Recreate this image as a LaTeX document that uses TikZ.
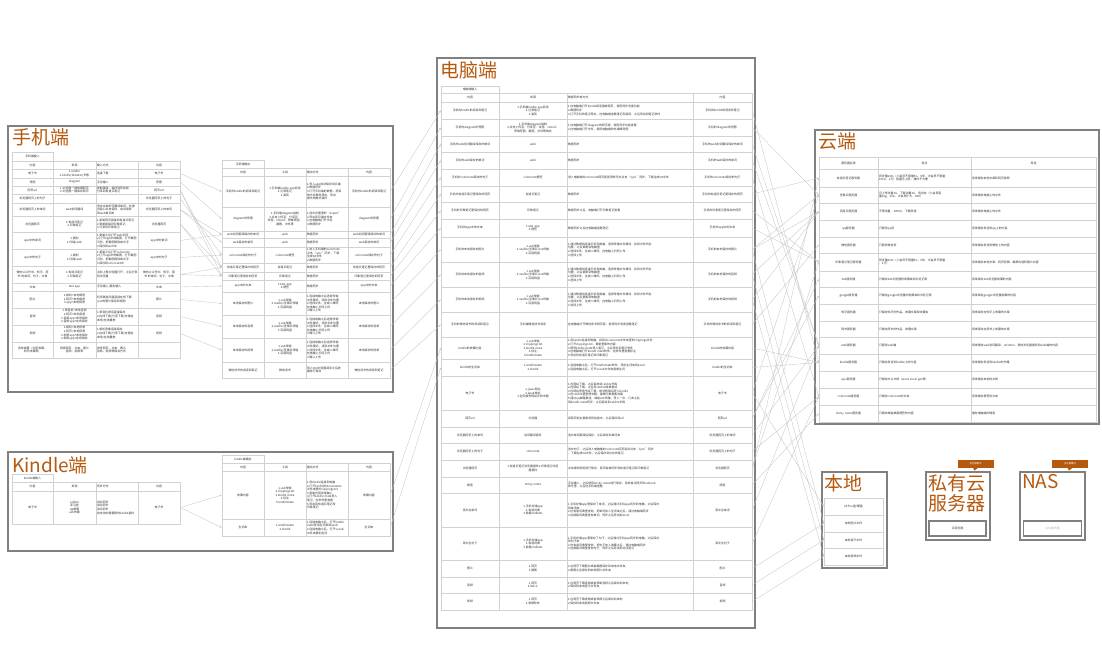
\documentclass[tikz,border=0pt]{standalone}
\usepackage{fontspec}
\setmainfont{Noto Sans CJK SC}
\usetikzlibrary{arrows.meta,calc}
\definecolor{titlebrown}{HTML}{B5590F}
\tikzset{
  boxframe/.style={draw=gray, line width=1.8pt},
  cellline/.style={draw=gray!35, line width=0.4pt},
  celltext/.style={font=\fontsize{2.9}{3.6}\selectfont, text=black!80, inner sep=1pt, align=center},
  lcell/.style={align=left},
  bigtitle/.style={font=\fontsize{19}{20}\selectfont, text=titlebrown, anchor=north west, inner sep=0pt, align=left},
  flow/.style={draw=gray!45, line width=0.35pt, -{Stealth[length=2.4pt,width=1.8pt]}},
  notebox/.style={fill=titlebrown, text=white, font=\fontsize{2.4}{3}\selectfont, minimum width=36pt, minimum height=7.5pt, inner sep=0pt},
}
% one cell: [style] name, x1, y1, x2, y2, text
\newcommand{\mkcell}[7][]{\pgfmathsetmacro{\cellw}{#5-#3-2}\draw[cellline] (#3,#4) rectangle (#5,#6); \node[celltext,#1,text width=\cellw pt] (#2) at ({(#3+#5)/2},{(#4+#6)/2}) {#7};}
% one row of four cells between \colA ... \colE
\newcommand{\cellrow}[7]{\mkcell{#1a}{\colA}{#2}{\colB}{#3}{#4} \mkcell{#1b}{\colB}{#2}{\colC}{#3}{#5} \mkcell[lcell]{#1c}{\colC}{#2}{\colD}{#3}{#6} \mkcell{#1d}{\colD}{#2}{\colE}{#3}{#7}}
% one row of three cells between \colA ... \colD
\newcommand{\srvrow}[6]{\mkcell{#1a}{\colA}{#2}{\colB}{#3}{#4} \mkcell[lcell]{#1b}{\colB}{#2}{\colC}{#3}{#5} \mkcell[lcell]{#1c}{\colC}{#2}{\colD}{#3}{#6}}

\begin{document}
\begin{tikzpicture}[x=1pt, y=-1pt]
        \useasboundingbox (0,0) rectangle (1102,671);
        % frames
        \draw[boxframe] (8,126) rectangle (393,392);
        \draw[boxframe] (8,452) rectangle (393,551);
        \draw[boxframe] (437,58) rectangle (755,628);
        \draw[boxframe] (815,130) rectangle (1099,424);
        \draw[boxframe] (822,472) rectangle (887,568);
        \draw[boxframe] (926,472) rectangle (990,540);
        \draw[boxframe] (1020,472) rectangle (1085,540);
        % titles
        \node[bigtitle] (phonetitle) at (12,128) {手机端};
        \node[bigtitle] (kindletitle) at (12,456) {Kindle端};
        \node[bigtitle] (pctitle) at (440,61) {电脑端};
        \node[bigtitle] (cloudtitle) at (818,132) {云端};
        \node[bigtitle] (localtitle) at (824,474) {本地};
        \node[bigtitle] (privtitle) at (928,474) {私有云\\服务器};
        \node[bigtitle] (nastitle) at (1022,474) {NAS};

        % phone input
        \def\colA{12}\def\colB{53}\def\colC{96}\def\colD{138}\def\colE{180}
        \mkcell{phinl}{12}{152}{53}{161}{手机端输入}
        \cellrow{phinh}{161}{169}{内容}{来源}{输入方式}{内容}
        \cellrow{phin1}{169}{178}{电子书}{1.kindle\\2.kindle/iReader/多看}{连接下载}{电子书}
        \cellrow{phin2}{178}{186}{导图}{diagram}{手动输入}{导图}
        \cellrow{phin3}{186}{194}{网页url}{1.浏览器一键收藏网页\\2.浏览器一键保存网页}{复制链接，保存到剪贴板\\分享到有道云笔记}{网页url}
        \cellrow{phin4}{194}{203}{浏览器网页上的句子}{}{}{浏览器网页上的句子}
        \cellrow{phin5}{203}{216}{浏览器网页上的单词}{web划词翻译}{选中文本即可翻译单词，在弹\\出窗口点击保存，自动保存\\到web单词本}{浏览器网页上的单词}
        \cellrow{phin6}{216}{232}{浏览器网页}{1.有道云笔记\\2.印象笔记}{1.复制网页链接到有道云笔记\\2.复制链接到印象笔记\\3.分享到印象笔记}{浏览器网页}
        \cellrow{phin7}{232}{249}{app中的单词}{1.复制\\2.扫描/web}{1.复制之后打开web划词\\2.打开app中的截图，打开截图\\识别，把截图提取成文字\\3.保存到web中}{app中的单词}
        \cellrow{phin8}{249}{266}{app中的句子}{1.复制\\2.扫描/web}{1.复制之后打开colornote\\2.打开app中的截图，打开截图\\识别，把截图提取成文字\\3.保存到colornote中}{app中的句子}
        \cellrow{phin9}{266}{283}{微信公众号中、知乎、简\\书 的单词、句子、文章}{1.有道云笔记\\2.印象笔记}{点右上角浏览器打开，之后分享\\到浏览器}{微信公众号中、知乎、简\\书 的单词、句子、文章}
        \cellrow{phin10}{283}{291}{文本}{text app}{手动输入/复制输入}{文本}
        \cellrow{phin11}{291}{308}{图片}{1.相机+本地相册\\2.网页+本地相册\\3.app+本地相册}{利用随身网盘直接在线下载\\/xxx的图片保存到相册}{图片}
        \cellrow{phin12}{308}{325}{音频}{1.录音机+本地音频\\2.网页+本地音频\\3.音频app+本地保存\\4.音频app+在线保存}{1.录音机录音直接保存\\2.在线下载/分享下载/存储在\\本地/在线播放}{音频}
        \cellrow{phin13}{325}{342}{视频}{1.相机+本地视频\\2.网页+本地视频\\3.视频app+本地保存\\4.视频app+在线保存}{1.相机录像直接保存\\2.在线下载/分享下载/存储在\\本地/在线播放}{视频}
        \cellrow{phin14}{342}{358}{各种收藏（浏览收藏、\\知乎收藏等）}{网络网页、文本、图片\\音频、视频等}{参考网页、文本、图片\\音频、视频等相关方式}{}

        % phone output
        \def\colA{222}\def\colB{264}\def\colC{306}\def\colD{348}\def\colE{390}
        \mkcell{phoutl}{222}{160}{264}{168}{手机端输出}
        \cellrow{phouth}{168}{176}{内容}{工具}{输出方式}{内容}
        \cellrow{phout1}{176}{207}{手机的kindle的阅读和笔记}{1.手机端kindle app阅读\\2.记录笔记\\3.高亮}{1.导入app自动保存到云端\\2.数据同步\\3.打开手机端的数据，用其\\他方式提取导出、导出\\成文档格式保存}{手机的kindle的阅读和笔记}
        \cellrow{phout2}{207}{231}{diagram的导图}{1.手机端diagram绘制\\2.点击上传至，分享至：\\流程、xmind、思维导图、\\截图、文件等}{1.选中设置里的“export”\\2.导出到云端文件夹\\3.在电脑端打开文件\\4.数据同步}{diagram的导图}
        \cellrow{phout3}{231}{238}{web划词翻译保存的单词}{web}{数据同步}{web划词翻译保存的单词}
        \cellrow{phout4}{238}{247}{web保存的单词}{web}{数据同步}{web保存的单词}
        \cellrow{phout5}{247}{263}{colornote保存的句子}{colornote便签}{1.进入手机端的colornote\\点击“sync”同步，下载\\生成txt文件\\2.数据同步}{colornote保存的句子}
        \cellrow{phout6}{263}{272}{有道云笔记里保存的网页}{有道云笔记}{数据同步}{有道云笔记里保存的网页}
        \cellrow{phout7}{272}{280}{印象笔记里保存的网页}{印象笔记}{数据同步}{印象笔记里保存的网页}
        \cellrow{phout8}{280}{292}{app中的文本}{1.text app\\2.便签}{数据同步}{app中的文本}
        \cellrow{phout9}{292}{315}{本地保存的图片}{1.usb传输\\2.seafile/坚果云传输\\3.百度网盘}{1.连接电脑之后选择传输\\文件模式，找到文件位置\\2.选择文件，生成二维码\\在电脑上扫码上传\\3.确认上传}{本地保存的图片}
        \cellrow{phout10}{315}{338}{本地保存的音频}{1.usb传输\\2.seafile/坚果云传输\\3.百度网盘}{1.连接电脑之后选择传输\\文件模式，找到文件位置\\2.选择文件，生成二维码\\在电脑上扫码上传\\3.确认上传}{本地保存的音频}
        \cellrow{phout11}{338}{362}{本地保存的视频}{1.usb传输\\2.seafile/坚果云传输\\3.百度网盘}{1.连接电脑之后选择传输\\文件模式，找到文件位置\\2.选择文件，生成二维码\\在电脑上扫码上传\\3.确认上传}{本地保存的视频}
        \cellrow{phout12}{362}{378}{微信读书的阅读和笔记}{微信读书}{导入360浏览器阅读之后收\\藏进行保存}{微信读书的阅读和笔记}

        % kindle input
        \def\colA{12}\def\colB{53}\def\colC{96}\def\colD{138}\def\colE{180}
        \mkcell{kinl}{12}{474}{53}{482}{kindle端输入}
        \cellrow{kinh}{482}{491}{内容}{来源}{同步方式}{内容}
        \cellrow{kin1}{491}{524}{电子书}{calibre\\亚马逊\\qq邮箱\\usb传输}{自动同步\\自动同步\\自动同步\\有支持的需要刷的kindle插件}{电子书}

        % kindle output
        \def\colA{222}\def\colB{264}\def\colC{306}\def\colD{348}\def\colE{390}
        \mkcell{koutl}{222}{455}{264}{463}{kindle端输出}
        \cellrow{kouth}{463}{471}{内容}{工具}{输出方式}{内容}
        \cellrow{kout1}{471}{519}{收藏内容}{1.usb传输\\2.clippings.txt\\3.kindle mate\\4.标注\\5.kindlemate}{1.将kindle连接到电脑\\2.打开kindle的documents\\文件夹里的clippings.txt\\3.复制内容到电脑上\\4.打开kindle mate导入\\笔记，在软件里查看\\5.导出到有道云笔记和\\印象笔记}{收藏内容}
        \cellrow{kout2}{519}{536}{生词本}{1.kindlemate\\2.kindle}{1.连接电脑之后，打开kindle\\mate导出生词本到excel\\2.连接电脑之后，打开vocab\\文件夹复制生词}{生词本}

        % pc table
        \def\colA{441}\def\colB{499}\def\colC{567}\def\colD{693}\def\colE{752}
        \mkcell{pcl}{441}{86}{499}{93}{电脑端输入}
        \cellrow{pch}{93}{102}{内容}{来源}{数据同步或方式}{内容}
        \cellrow{pc1}{102}{119}{手机的kindle的阅读和笔记}{1.手机端kindle app阅读\\2.记录笔记\\3.高亮}{1.在电脑端打开kindle阅读器或网页，使用同步进度功能\\2.数据同步\\3.打开手机的笔记导出，在电脑端查看笔记和高亮，之后导出到笔记软件}{手机的kindle的阅读和笔记}
        \cellrow{pc2}{119}{136}{手机的diagram的导图}{1.手机端diagram绘制\\2.点击上传至，分享至：流程、xmind、\\思维导图、截图、文件等格式}{1.在电脑端打开diagram的网页版，使用同步功能查看\\2.在电脑端打开文件，使用电脑端软件编辑导图}{手机的diagram的导图}
        \cellrow{pc3}{136}{152}{手机的web划词翻译保存的单词}{web}{数据同步}{手机的web划词翻译保存的单词}
        \cellrow{pc4}{152}{169}{手机的web保存的单词}{web}{数据同步}{手机的web保存的单词}
        \cellrow{pc5}{169}{186}{手机的colornote保存的句子}{colornote便签}{进入电脑端的colornote网页版登录账号并点击“sync”同步，下载生成txt文件}{手机的colornote保存的句子}
        \cellrow{pc6}{186}{202}{手机的有道云笔记里保存的网页}{有道云笔记}{数据同步}{手机的有道云笔记里保存的网页}
        \cellrow{pc7}{202}{219}{手机的印象笔记里保存的网页}{印象笔记}{数据同步之后，电脑端打开印象笔记查看}{手机的印象笔记里保存的网页}
        \cellrow{pc8}{219}{237}{手机的app中的文本}{1.text app\\2.便签}{数据同步之后在电脑端查看笔记}{手机的app中的文本}
        \cellrow{pc9}{237}{262}{手机的本地保存的图片}{1.usb传输\\2.seafile/坚果云/xxx传输\\3.百度网盘}{1.通过数据线连接手机和电脑，选择传输文件模式，找到文件所在\\位置，之后复制到电脑里\\2.选择文件，生成二维码，在电脑上扫码上传\\3.选择上传}{手机的本地保存的图片}
        \cellrow{pc10}{262}{287}{手机的本地保存的音频}{1.usb传输\\2.seafile/坚果云/xxx传输\\3.百度网盘}{1.通过数据线连接手机和电脑，选择传输文件模式，找到文件所在\\位置，之后复制到电脑里\\2.选择文件，生成二维码，在电脑上扫码上传\\3.选择上传}{手机的本地保存的音频}
        \cellrow{pc11}{287}{312}{手机的本地保存的视频}{1.usb传输\\2.seafile/坚果云/xxx传输\\3.百度网盘}{1.通过数据线连接手机和电脑，选择传输文件模式，找到文件所在\\位置，之后复制到电脑里\\2.选择文件，生成二维码，在电脑上扫码上传\\3.选择上传}{手机的本地保存的视频}
        \cellrow{pc12}{312}{337}{手机的微信读书的阅读和笔记}{手机端微信读书阅读}{在电脑端打开微信读书网页版，使用同步进度查看笔记}{手机的微信读书的阅读和笔记}
        \cellrow{pc13}{337}{359}{kindle的收藏内容}{1.usb传输\\2.clippings.txt\\3.kindle mate\\4.标注\\5.kindlemate}{1.将kindle连接到电脑，找到documents文件夹里的clippings文件\\2.打开clippings.txt，复制里面的内容\\3.使用kindle mate导入笔记，之后导出到笔记软件\\4.在电脑端打开kindle mate软件，在软件里查看标注\\5.导出到有道云笔记和印象笔记}{kindle的收藏内容}
        \cellrow{pc14}{359}{376}{kindle的生词本}{1.kindlemate\\2.kindle}{1.连接电脑之后，打开kindlemate软件，导出生词本到excel\\2.连接电脑之后，打开vocab文件夹复制生词}{kindle的生词本}
        \cellrow{pc15}{376}{410}{电子书}{1.jjwxc网站\\2.epub格式\\3.全网搜书网站多种书籍}{1.在网站下载，之后保存到calibre书库\\2.在网站下载，之后用calibre转换格式\\3.在网站里搜书并下载，格式转换后导入kindle\\4.在calibre里管理书籍，编辑元数据和封面\\5.通过qq邮箱推送，或者usb传输，导入一次，几本之后\\用kindle mate同步，之后保存到calibre书库}{电子书}
        \cellrow{pc16}{410}{427}{网页url}{浏览器}{将网页地址复制到剪贴板中，之后保存到url}{网页url}
        \cellrow{pc17}{427}{443}{浏览器网页上的单词}{划词翻译插件}{选中单词翻译后保存，之后保存到单词本}{浏览器网页上的单词}
        \cellrow{pc18}{443}{460}{浏览器网页上的句子}{colornote}{选中句子，之后进入电脑端的colornote网页版并点击“sync”同步\\，下载生成txt文件，之后保存到对应的笔记}{浏览器网页上的句子}
        \cellrow{pc19}{460}{477}{浏览器网页}{1.有道云笔记浏览器插件2.印象笔记浏览\\器插件}{点击插件图标进行保存，网页会被同步到有道云笔记和印象笔记}{浏览器网页}
        \cellrow{pc20}{477}{493}{随笔}{sticky notes}{手动输入，之后使用sticky notes进行保存，系统自动同步到outlook\\账号里，之后在手机端查看}{随笔}
        \cellrow{pc21}{493}{527}{英文生单词}{1.手机存储app\\2.有道词典\\3.欧路+tablets}{1.手机存储app里保存了单词，之后通过手机app同步到电脑，之后保存\\到单词本\\2.在有道词典里查询，把单词加入生词本之后，通过电脑端同步\\3.在欧路词典里查询单词，同步之后导出到excel}{英文生单词}
        \cellrow{pc22}{527}{560}{英文生句子}{1.手机存储app\\2.有道词典\\3.欧路+tablets}{1.手机存储app里保存了句子，之后通过手机app同步到电脑，之后保存\\到句子本\\2.在有道词典里查询，把句子加入收藏之后，通过电脑端同步\\3.在欧路词典里查询句子，同步之后导出到对应笔记}{英文生句子}
        \cellrow{pc23}{560}{577}{图片}{1.网页\\2.截图}{1.在网页下载图片或者截图保存到本地文件夹\\2.截图之后保存到本地图片文件夹}{图片}
        \cellrow{pc24}{577}{593}{音频}{1.网页\\2.Music}{1.在网页下载音频或者录制音频之后保存到本地\\2.保存到本地音乐文件夹}{音频}
        \cellrow{pc25}{593}{610}{视频}{1.网页\\2.录屏软件}{1.在网页下载视频或者录屏之后保存到本地\\2.保存到本地视频文件夹}{视频}

        % cloud table
        \def\colA{819}\def\colB{878}\def\colC{971}\def\colD{1096}
        \mkcell{clha}{819}{157}{878}{169}{服务器名称}
        \mkcell{clhb}{878}{157}{971}{169}{特点}
        \mkcell{clhc}{971}{157}{1096}{169}{用途}
        \srvrow{cl1}{169}{187}{有道云笔记服务器}{同步量60m（小会员不限量5G，5年，大会员不限量\\100G，1万）容量无上限，操作不方便}{用来储存本地文章和网页视频}
        \srvrow{cl2}{187}{203}{坚果云服务器}{月上传流量1G，下载流量3G，适合存（小会员容\\量10g，20G，大会员扩大，800）}{用来储存电脑上的文件}
        \srvrow{cl3}{203}{220}{百度云服务器}{不限流量，2055G，下载限速}{用来储存电脑上的文件}
        \srvrow{cl4}{220}{237}{qq服务器}{只服务qq用}{用来储存发送到qq上的内容}
        \srvrow{cl5}{237}{253}{微信服务器}{只服务微信用}{用来储存发送到微信上的内容}
        \srvrow{cl6}{253}{271}{印象笔记笔记服务器}{同步量60m（小会员不限量5G，5年，大会员不限量\\，1万）}{用来储存本地文章、网页剪辑、截屏内容和图片内容}
        \srvrow{cl7}{271}{287}{360服务器}{只储存360浏览器的收藏夹和浏览记录}{用来保存360浏览器收藏的内容}
        \srvrow{cl8}{287}{304}{google服务器}{只储存google浏览器的收藏夹和浏览记录}{用来保存google浏览器收藏的内容}
        \srvrow{cl9}{304}{321}{知乎服务器}{只储存知乎的作品、收藏文章和收藏夹}{用来保存在知乎上收藏的文章}
        \srvrow{cl10}{321}{337}{简书服务器}{只储存简书的作品、收藏文章}{用来保存在简书上收藏的文章}
        \srvrow{cl11}{337}{354}{web服务器}{只服务web端}{用来储存web划词翻译、urlshort、其他浏览器插件和web端的内容}
        \srvrow{cl12}{354}{371}{kindle服务器}{只储存发送到kindle上的内容}{用来储存发送到kindle的书籍}
        \srvrow{cl13}{371}{388}{wps服务器}{只储存办公文档（word excel ppt等）}{用来储存本地的文档}
        \srvrow{cl14}{388}{405}{colornote服务器}{只储存colornote的文本}{用来储存便签的文本}
        \srvrow{cl15}{405}{422}{sticky notes服务器}{只储存电脑桌面便签的内容}{储存电脑端的随笔}

        % local
        \mkcell{lo1}{824}{498}{883}{515}{sd卡/u盘/硬盘}
        \mkcell{lo2}{824}{515}{883}{532}{本地图片文件}
        \mkcell{lo3}{824}{532}{883}{548}{本地音乐文件}
        \mkcell{lo4}{824}{548}{883}{565}{本地视频文件}

        % private cloud and nas
        \node[draw=gray, line width=1.4pt, minimum width=57pt, minimum height=15pt, font=\fontsize{2.9}{3.6}\selectfont, text=black!75] (pcsrv) at (957.5,528.5) {云服务器};
        \node[draw=gray, line width=1.4pt, minimum width=58pt, minimum height=15pt, font=\fontsize{2.9}{3.6}\selectfont, text=gray!60] (nassrv) at (1052.7,528.5) {NAS服务器};
        \node[notebox] (privnote) at (975.5,463.8) {正在部署中};
        \fill[titlebrown] ($(privnote.south)+(-2.5,0)$) -- ($(privnote.south)+(2.5,0)$) -- ($(privnote.south)+(-1,2.8)$) -- cycle;
        \node[notebox] (nasnote) at (1070,463.8) {正在部署中};
        \fill[titlebrown] ($(nasnote.south)+(-2.5,0)$) -- ($(nasnote.south)+(2.5,0)$) -- ($(nasnote.south)+(-1,2.8)$) -- cycle;

        % phone input -> phone output
        \draw[flow] (phin1d.east) -- (phout1a.west);
        \draw[flow] (phin2d.east) -- (phout2a.west);
        \draw[flow] (phin3d.east) -- (phout6a.west);
        \draw[flow] (phin3d.east) -- (phout7a.west);
        \draw[flow] (phin4d.east) -- (phout5a.west);
        \draw[flow] (phin5d.east) -- (phout3a.west);
        \draw[flow] (phin5d.east) -- (phout4a.west);
        \draw[flow] (phin6d.east) -- (phout6a.west);
        \draw[flow] (phin6d.east) -- (phout7a.west);
        \draw[flow] (phin7d.east) -- (phout3a.west);
        \draw[flow] (phin8d.east) -- (phout5a.west);
        \draw[flow] (phin9d.east) -- (phout6a.west);
        \draw[flow] (phin9d.east) -- (phout7a.west);
        \draw[flow] (phin10d.east) -- (phout8a.west);
        \draw[flow] (phin11d.east) -- (phout9a.west);
        \draw[flow] (phin12d.east) -- (phout10a.west);
        \draw[flow] (phin13d.east) -- (phout11a.west);
        % phone output -> pc
        \draw[flow] (phout1d.east) -- (pc1a.west);
        \draw[flow] (phout2d.east) -- (pc2a.west);
        \draw[flow] (phout3d.east) -- (pc3a.west);
        \draw[flow] (phout4d.east) -- (pc4a.west);
        \draw[flow] (phout5d.east) -- (pc5a.west);
        \draw[flow] (phout6d.east) -- (pc6a.west);
        \draw[flow] (phout7d.east) -- (pc7a.west);
        \draw[flow] (phout8d.east) -- (pc8a.west);
        \draw[flow] (phout9d.east) -- (pc9a.west);
        \draw[flow] (phout10d.east) -- (pc10a.west);
        \draw[flow] (phout11d.east) -- (pc11a.west);
        \draw[flow] (phout12d.east) -- (pc12a.west);
        % kindle
        \draw[flow] (kin1d.east) -- (kout1a.west);
        \draw[flow] (kin1d.east) -- (kout2a.west);
        \draw[flow] (kout1d.east) -- (pc13a.west);
        \draw[flow] (kout2d.east) -- (pc14a.west);
        % pc -> cloud
        \draw[flow] (pc1d.east) -- (cl12a.west);
        \draw[flow] (pc2d.east) -- (cl2a.west);
        \draw[flow] (pc3d.east) -- (cl11a.west);
        \draw[flow] (pc4d.east) -- (cl11a.west);
        \draw[flow] (pc5d.east) -- (cl14a.west);
        \draw[flow] (pc6d.east) -- (cl1a.west);
        \draw[flow] (pc7d.east) -- (cl6a.west);
        \draw[flow] (pc8d.east) -- (cl6a.west);
        \draw[flow] (pc9d.east) -- (cl2a.west);
        \draw[flow] (pc9d.east) -- (cl3a.west);
        \draw[flow] (pc10d.east) -- (cl3a.west);
        \draw[flow] (pc11d.east) -- (cl3a.west);
        \draw[flow] (pc12d.east) -- (cl5a.west);
        \draw[flow] (pc13d.east) -- (cl12a.west);
        \draw[flow] (pc14d.east) -- (cl12a.west);
        \draw[flow] (pc15d.east) -- (cl2a.west);
        \draw[flow] (pc16d.east) -- (cl7a.west);
        \draw[flow] (pc16d.east) -- (cl8a.west);
        \draw[flow] (pc17d.east) -- (cl11a.west);
        \draw[flow] (pc18d.east) -- (cl14a.west);
        \draw[flow] (pc19d.east) -- (cl1a.west);
        \draw[flow] (pc19d.east) -- (cl6a.west);
        \draw[flow] (pc20d.east) -- (cl15a.west);
        \draw[flow] (pc21d.east) -- (cl11a.west);
        \draw[flow] (pc22d.east) -- (cl14a.west);
        % pc -> local
        \draw[flow] (pc15d.east) -- (lo1.west);
        \draw[flow] (pc9d.east) -- (lo2.west);
        \draw[flow] (pc10d.east) -- (lo3.west);
        \draw[flow] (pc11d.east) -- (lo4.west);
        \draw[flow] (pc23d.east) -- (lo2.west);
        \draw[flow] (pc24d.east) -- (lo3.west);
        \draw[flow] (pc25d.east) -- (lo4.west);
\end{tikzpicture}
\end{document}
